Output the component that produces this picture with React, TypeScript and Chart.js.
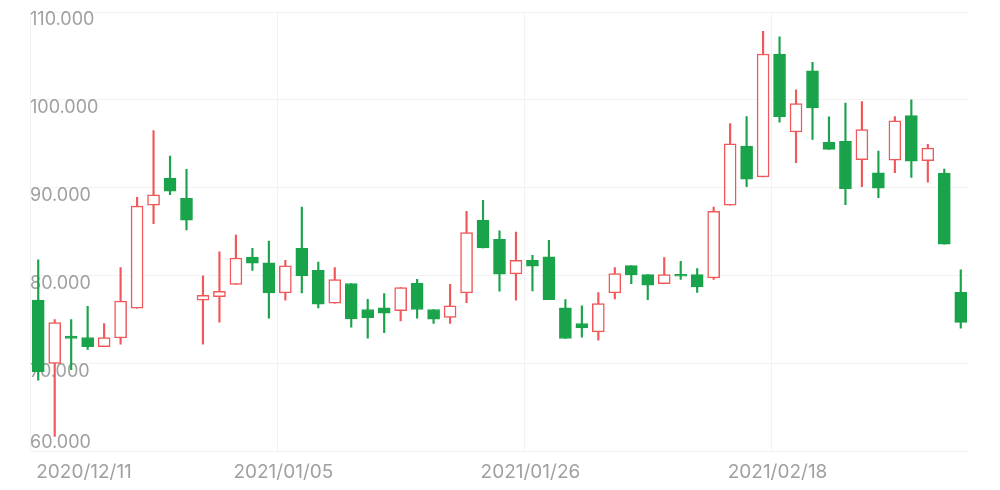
import React, { useEffect, useRef } from 'react';
import { Chart, registerables } from 'chart.js';

Chart.register(...registerables);

const dates = [
  '2020/12/11', '2020/12/14', '2020/12/15', '2020/12/16', '2020/12/17', '2020/12/18', '2020/12/21', '2020/12/22',
  '2020/12/23', '2020/12/24', '2020/12/28', '2020/12/29', '2020/12/30', '2020/12/31', '2021/01/04', '2021/01/05',
  '2021/01/06', '2021/01/07', '2021/01/08', '2021/01/11', '2021/01/12', '2021/01/13', '2021/01/14', '2021/01/15',
  '2021/01/18', '2021/01/19', '2021/01/20', '2021/01/21', '2021/01/22', '2021/01/25', '2021/01/26', '2021/01/27',
  '2021/01/28', '2021/01/29', '2021/02/01', '2021/02/02', '2021/02/03', '2021/02/04', '2021/02/05', '2021/02/08',
  '2021/02/09', '2021/02/10', '2021/02/11', '2021/02/16', '2021/02/17', '2021/02/18', '2021/02/19', '2021/02/22',
  '2021/02/23', '2021/02/24', '2021/02/25', '2021/02/26', '2021/03/01', '2021/03/02', '2021/03/03', '2021/03/04',
  '2021/03/05',
];

const opens = [
  77.2, 70.0, 73.1, 72.95, 71.9, 72.9, 76.3, 88.0, 91.1, 88.8, 77.2, 77.6, 79.0, 82.1, 81.44, 78.03,
  83.1, 80.6, 76.86, 79.1, 76.14, 76.33, 76.0, 79.13, 76.14, 75.23, 78.03, 86.29, 84.13, 80.19, 81.74, 82.12,
  76.33, 74.55, 73.6, 78.03, 81.14, 80.11, 79.09, 80.15, 80.11, 79.73, 88.0, 94.74, 91.24, 105.22, 96.34, 103.31,
  95.16, 95.28, 93.18, 91.7, 93.14, 98.21, 93.07, 91.66, 78.1,
];

const closes = [
  69.05, 74.66, 72.85, 71.9, 72.95, 77.1, 87.9, 89.2, 89.6, 86.3, 77.75, 78.2, 82.0, 81.4, 78.03, 81.1,
  80.0, 76.74, 79.55, 75.08, 75.2, 75.72, 78.64, 76.14, 75.04, 76.55, 84.89, 83.14, 80.15, 81.74, 81.06, 77.27,
  72.84, 74.05, 76.82, 80.22, 80.08, 78.9, 80.11, 79.92, 78.7, 87.31, 95.0, 90.97, 105.22, 98.1, 99.58, 99.09,
  94.36, 89.9, 96.61, 89.94, 97.6, 93.03, 94.51, 83.58, 74.67,
];

const lows = [
  68.1, 61.7, 69.3, 71.6, 71.9, 72.2, 76.3, 85.9, 89.2, 85.2, 72.2, 74.7, 79.0, 80.6, 75.15, 77.2,
  78.03, 76.33, 76.86, 74.13, 72.88, 73.5, 74.85, 75.15, 74.55, 74.55, 76.93, 83.14, 78.22, 77.2, 78.26, 77.27,
  72.84, 72.98, 72.65, 77.35, 79.09, 77.27, 79.09, 79.55, 78.07, 79.55, 88.0, 90.13, 91.24, 97.45, 92.84, 95.5,
  94.36, 88.08, 90.13, 88.88, 91.7, 91.16, 90.63, 83.58, 74.02,
];

const highs = [
  81.8, 75.0, 75.0, 76.5, 74.55, 80.9, 88.9, 96.5, 93.6, 92.1, 79.96, 82.7, 84.6, 83.1, 83.94, 81.74,
  87.8, 81.55, 80.9, 79.1, 77.3, 77.95, 78.64, 79.58, 76.14, 79.0, 87.3, 88.56, 85.08, 84.96, 82.31, 84.02,
  77.27, 76.55, 78.07, 80.9, 81.14, 80.11, 82.05, 81.63, 80.8, 87.8, 97.3, 98.1, 107.8, 107.16, 101.14, 104.27,
  98.06, 99.62, 99.81, 94.17, 98.1, 100.0, 94.93, 92.11, 80.65,
];

const xTickLabels = ['2020/12/11', '2021/01/05', '2021/01/26', '2021/02/18'];
const yMin = 60;
const yMax = 110;
const yStep = 10;

const UP = '#F0585A';
const DOWN = '#19A34A';
const GRID = '#F2F2F2';
const TEXT = '#A0A0A0';
const FONT = 'Inter';

const zeroPad = (s: any) => {
  s.paddingTop = 0;
  s.paddingBottom = 0;
  s.paddingLeft = 0;
  s.paddingRight = 0;
};

export default function App() {
  const ref = useRef<HTMLCanvasElement>(null);

  useEffect(() => {
    if (!ref.current) return;
    const isUp = opens.map((o, i) => closes[i] >= o);
    const chart = new Chart(ref.current, {
      type: 'bar',
      data: {
        labels: dates,
        datasets: [
          {
            label: 'body',
            data: opens.map((o, i) => [o, closes[i]]),
            backgroundColor: isUp.map((u) => (u ? '#FFFFFF' : DOWN)),
            borderColor: isUp.map((u) => (u ? UP : DOWN)),
            borderWidth: isUp.map((u) => (u ? 1.5 : 1)),
            borderSkipped: false,
            barThickness: 12,
            grouped: false,
            minBarLength: 2,
            yAxisID: 'y',
          } as any,
          {
            label: 'wick',
            data: lows.map((l, i) => [l, highs[i]]),
            backgroundColor: isUp.map((u) => (u ? UP : DOWN)),
            borderWidth: 0,
            barThickness: 1.5,
            grouped: false,
            yAxisID: 'y',
          } as any,
        ],
      },
      options: {
        responsive: true,
        maintainAspectRatio: false,
        animation: false,
        layout: { padding: { left: 22, right: 23, top: 4, bottom: 0 } },
        plugins: { legend: { display: false }, tooltip: { enabled: false } },
        scales: {
          x: {
            offset: true,
            border: { display: false },
            afterFit: (s: any) => {
              zeroPad(s);
              s.height = 30.7;
            },
            grid: {
              offset: true,
              drawTicks: false,
              lineWidth: 1,
              color: (ctx: any) => {
                const i = ctx.index;
                if (i === dates.length) return GRID;
                return xTickLabels.includes(dates[i]) ? GRID : 'rgba(0,0,0,0)';
              },
            },
            ticks: {
              autoSkip: false,
              maxRotation: 0,
              minRotation: 0,
              align: 'inner',
              padding: 9.5,
              labelOffset: -2,
              color: TEXT,
              font: { family: FONT, size: 19 },
              callback: (_v: any, i: number) => (xTickLabels.includes(dates[i]) ? dates[i] : ''),
            },
          },
          y: {
            min: yMin,
            max: yMax,
            position: 'left',
            border: { display: false },
            afterFit: zeroPad,
            grid: { color: GRID, drawTicks: false, lineWidth: 1 },
            ticks: {
              stepSize: yStep,
              mirror: true,
              padding: 0,
              align: 'start',
              labelOffset: -1,
              color: TEXT,
              font: { family: FONT, size: 18 },
              callback: (v: any) => (Number(v) === yMin ? '' : Number(v).toFixed(3)),
            },
          },
          y2: {
            min: yMin,
            max: yMax,
            position: 'left',
            border: { display: false },
            afterFit: zeroPad,
            grid: { display: false, drawTicks: false },
            ticks: {
              stepSize: yStep,
              mirror: true,
              padding: 0,
              align: 'end',
              color: TEXT,
              font: { family: FONT, size: 18 },
              callback: (v: any) => (Number(v) === yMin ? Number(v).toFixed(3) : null),
            },
          },
        },
      } as any,
    });
    return () => chart.destroy();
  }, []);

  return (
    <div style={{ position: 'relative', width: '100%', height: 474 }}>
      <canvas ref={ref} />
    </div>
  );
}
